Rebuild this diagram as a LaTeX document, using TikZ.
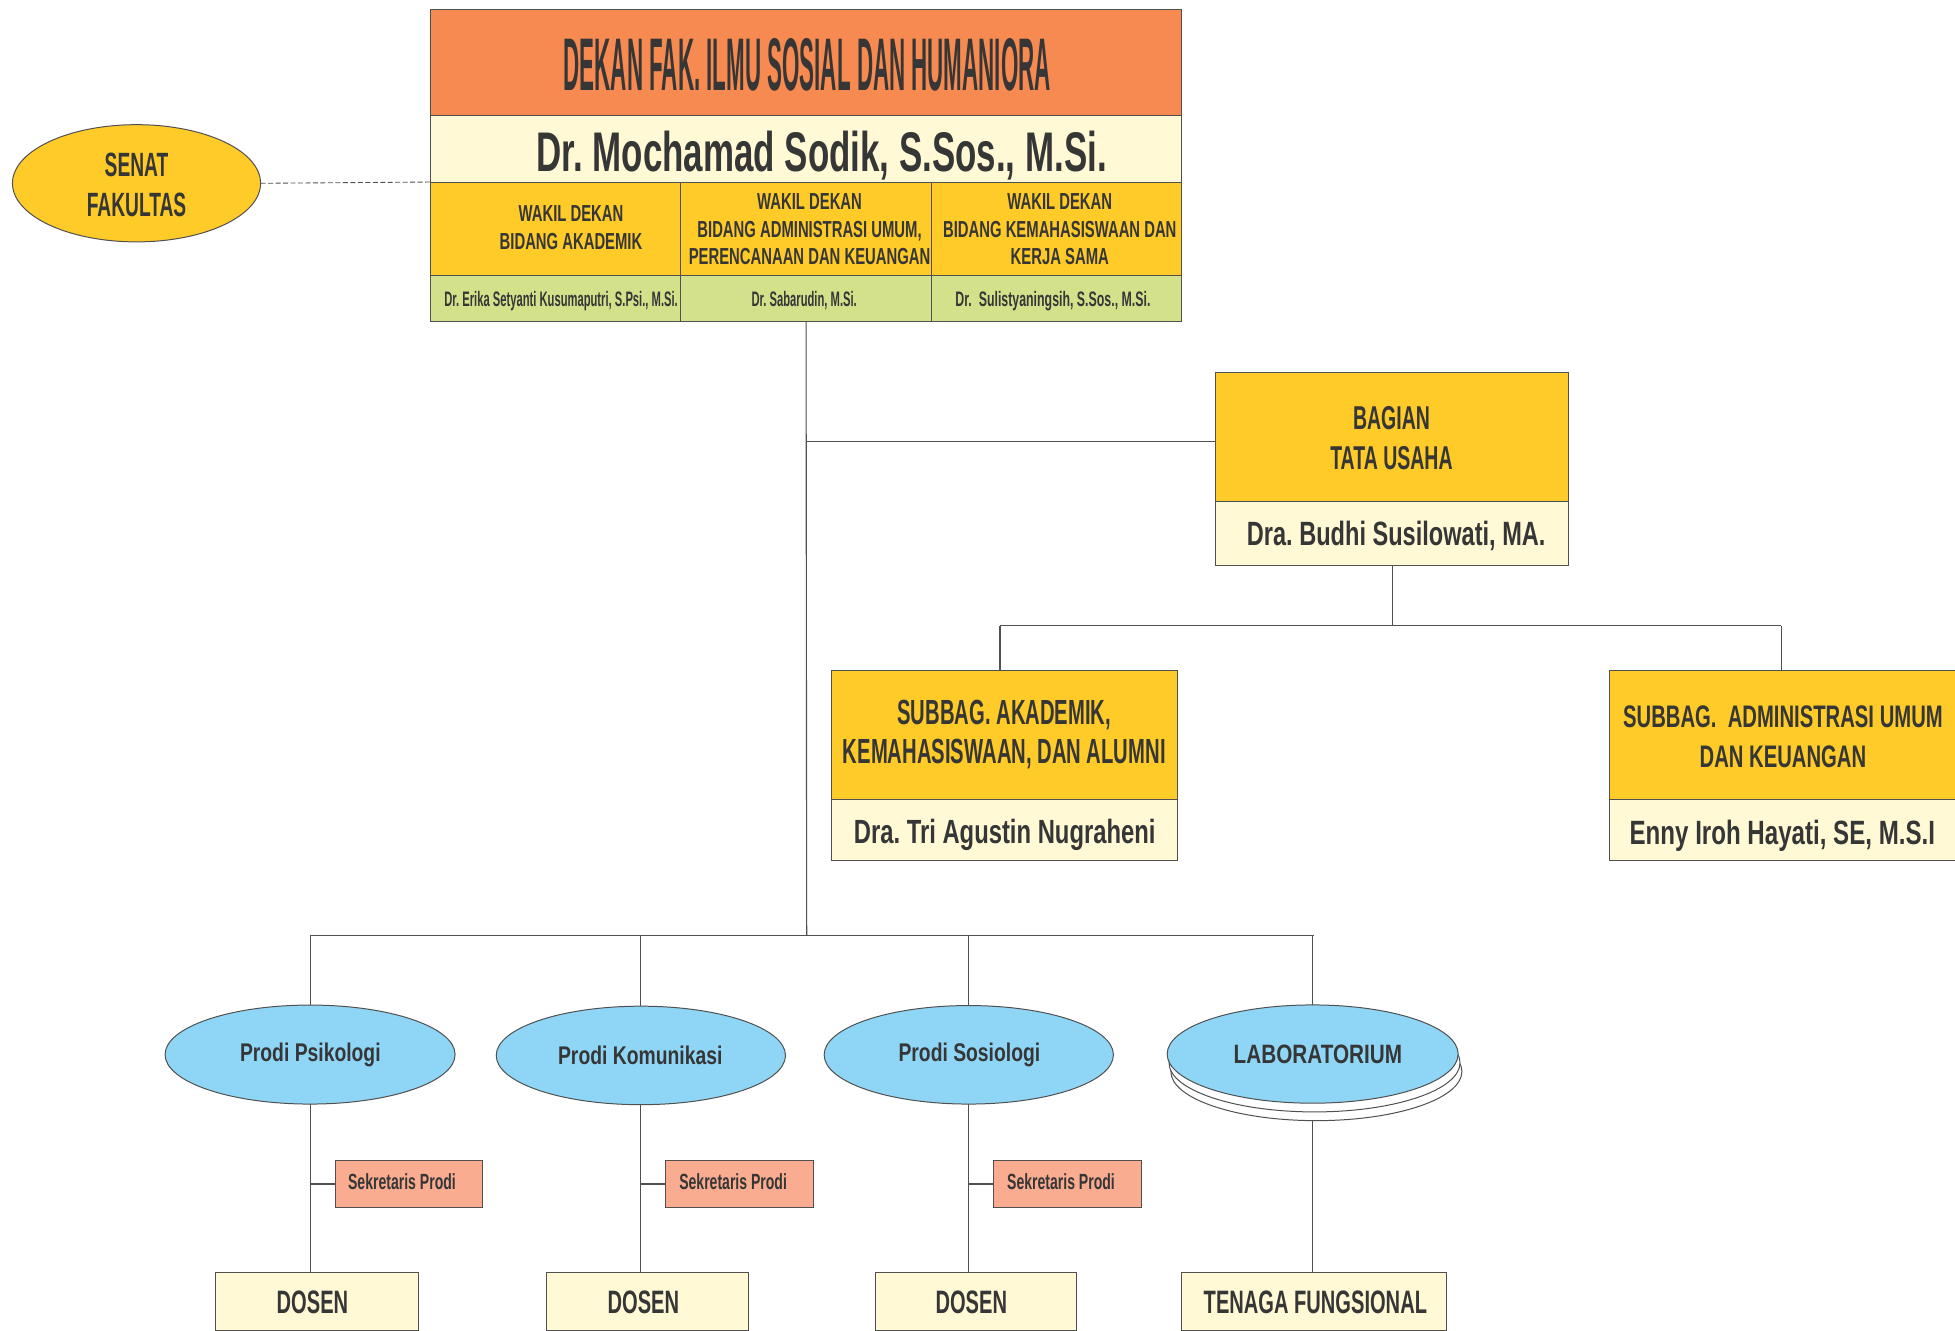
\documentclass[tikz,border=0pt]{standalone}
\usepackage{fontspec}
\setmainfont{Liberation Sans}
\usetikzlibrary{shapes.geometric}
\frenchspacing
\definecolor{cOr}{HTML}{F68A50}
\definecolor{cCr}{HTML}{FFFAD5}
\definecolor{cYe}{HTML}{FFCB29}
\definecolor{cGr}{HTML}{D4E18B}
\definecolor{cBl}{HTML}{8FD6F6}
\definecolor{cSa}{HTML}{F9AC8F}
\definecolor{cTx}{HTML}{363636}
\definecolor{cLn}{HTML}{505050}
\newcommand\Fnt[3]{\fontspec[FakeStretch=#1]{Liberation Sans Bold}\fontsize{#2}{#3}\selectfont}
\tikzset{
  bx/.style={draw=cLn, line width=0.8pt, inner sep=0pt, outer sep=0pt, anchor=north west, rectangle},
  el/.style={draw=cLn, line width=0.8pt, ellipse, inner sep=0pt, outer sep=0pt, fill=cBl},
  tx/.style={anchor=base, inner sep=0pt, outer sep=0pt, text=cTx},
  ln/.style={draw=cLn, line width=0.9pt},
  fW/.style={font=\Fnt{0.64}{18.6}{19}},
  fP/.style={font=\Fnt{0.756}{20.5}{21}},
  fS/.style={font=\Fnt{0.64}{17.6}{18}},
  fD/.style={font=\Fnt{0.62}{26}{26}},
}
\begin{document}
\begin{tikzpicture}[x=1pt,y=-1pt]
\useasboundingbox (0,0) rectangle (1568,1067.5);
% ---------- top block
\node[bx,fill=cOr,minimum width=603pt,minimum height=85pt] (dek) at (345,8) {};
\node[bx,fill=cCr,minimum width=603pt,minimum height=53pt] (dekN) at (345,93) {};
\node[bx,fill=cYe,minimum width=201pt,minimum height=75pt] (w1) at (345,146) {};
\node[bx,fill=cYe,minimum width=201pt,minimum height=75pt] (w2) at (546,146) {};
\node[bx,fill=cYe,minimum width=201pt,minimum height=75pt] (w3) at (747,146) {};
\node[bx,fill=cGr,minimum width=201pt,minimum height=37pt] (g1) at (345,221) {};
\node[bx,fill=cGr,minimum width=201pt,minimum height=37pt] (g2) at (546,221) {};
\node[bx,fill=cGr,minimum width=201pt,minimum height=37pt] (g3) at (747,221) {};
\node[tx,font=\Fnt{0.30}{59.8}{60}] (tT) at (647.5,72.2) {DEKAN FAK. ILMU SOSIAL DAN HUMANIORA};
\node[tx,font=\Fnt{0.625}{44.8}{45}] (tN) at (659,137.7) {Dr. Mochamad Sodik, S.Sos., M.Si.};
\node[tx,fW] (tw1a) at (458,177.5) {WAKIL DEKAN};
\node[tx,fW] (tw1b) at (458,200) {BIDANG AKADEMIK};
\node[tx,fW] (tw2a) at (649.3,168) {WAKIL DEKAN};
\node[tx,fW] (tw2b) at (649.3,190.3) {BIDANG ADMINISTRASI UMUM,};
\node[tx,fW] (tw2c) at (649.3,212.5) {PERENCANAAN DAN KEUANGAN};
\node[tx,fW] (tw3a) at (850,168) {WAKIL DEKAN};
\node[tx,fW] (tw3b) at (850,190.3) {BIDANG KEMAHASISWAAN DAN};
\node[tx,fW] (tw3c) at (850,212.5) {KERJA SAMA};
\node[tx,font=\Fnt{0.535}{16.8}{17}] (tg1) at (450,246) {Dr. Erika Setyanti Kusumaputri, S.Psi., M.Si.};
\node[tx,font=\Fnt{0.535}{16.8}{17}] (tg2) at (645,246) {Dr. Sabarudin, M.Si.};
\node[tx,font=\Fnt{0.59}{16.8}{17}] (tg3) at (844.5,246) {Dr.\ \ Sulistyaningsih, S.Sos., M.Si.};
% ---------- senat
\node[el,fill=cYe,minimum width=199pt,minimum height=94pt] (sen) at (109.5,147) {};
\node[tx,font=\Fnt{0.57}{27}{27}] (tsa) at (109.5,141.7) {SENAT};
\node[tx,font=\Fnt{0.57}{27}{27}] (tsb) at (109.5,173.3) {FAKULTAS};
\draw[ln,line width=0.7pt,dash pattern=on 4pt off 2pt] (sen.east) -- (dekN.south west);
% ---------- bagian tata usaha
\node[bx,fill=cYe,minimum width=283pt,minimum height=103.5pt] (bag) at (975,299) {};
\node[bx,fill=cCr,minimum width=283pt,minimum height=51pt] (bagN) at (975,402.5) {};
\node[tx,font=\Fnt{0.59}{26.5}{27}] (tba) at (1116,344.8) {BAGIAN};
\node[tx,font=\Fnt{0.59}{26.5}{27}] (tbb) at (1116,376.3) {TATA USAHA};
\node[tx,font=\Fnt{0.70}{27}{27}] (tbn) at (1119.8,437.6) {Dra. Budhi Susilowati, MA.};
% ---------- subbag
\node[bx,fill=cYe,minimum width=277pt,minimum height=103pt] (subA) at (667,538) {};
\node[bx,fill=cCr,minimum width=277pt,minimum height=49pt] (subAN) at (667,641) {};
\node[tx,font=\Fnt{0.58}{28}{28}] (tsA1) at (805.5,581.3) {SUBBAG. AKADEMIK,};
\node[tx,font=\Fnt{0.58}{28}{28}] (tsA2) at (805.5,612) {KEMAHASISWAAN, DAN ALUMNI};
\node[tx,font=\Fnt{0.71}{26.9}{27}] (tsAn) at (805.8,676.8) {Dra. Tri Agustin Nugraheni};
\node[bx,fill=cYe,minimum width=300pt,minimum height=103pt] (subB) at (1291,538) {};
\node[bx,fill=cCr,minimum width=300pt,minimum height=49pt] (subBN) at (1291,641) {};
\node[tx,font=\Fnt{0.65}{25}{25}] (tsB1) at (1430,583.2) {SUBBAG.\ \ ADMINISTRASI UMUM};
\node[tx,font=\Fnt{0.65}{25}{25}] (tsB2) at (1430,615.3) {DAN KEUANGAN};
\node[tx,font=\Fnt{0.716}{27}{27}] (tsBn) at (1429.5,677.6) {Enny Iroh Hayati, SE, M.S.I};
% ---------- prodi ellipses
\node[el,minimum width=232.6pt,minimum height=79.4pt] (e1) at (248.7,845.8) {};
\node[el,minimum width=232pt,minimum height=79pt] (e2) at (514,846.5) {};
\node[el,minimum width=232pt,minimum height=79pt] (e3) at (777,846) {};
\node[el,fill=white,minimum width=233.4pt,minimum height=78.8pt] (e4c) at (1055.8,859.4) {};
\node[el,fill=white,minimum width=233.4pt,minimum height=78.8pt] (e4b) at (1054.3,852.4) {};
\node[el,minimum width=233.4pt,minimum height=78.8pt] (e4) at (1052.8,845.4) {};
\node[tx,fP] (tp1) at (248.9,851.4) {Prodi Psikologi};
\node[tx,fP] (tp2) at (513.5,853.5) {Prodi Komunikasi};
\node[tx,fP] (tp3) at (777.5,851.4) {Prodi Sosiologi};
\node[tx,font=\Fnt{0.78}{21.3}{22}] (tlab) at (1057,853) {LABORATORIUM};
% ---------- sekretaris
\node[bx,fill=cSa,minimum width=118.4pt,minimum height=37.2pt] (s1) at (268.7,931) {};
\node[bx,fill=cSa,minimum width=118.4pt,minimum height=37.2pt] (s2) at (534,931) {};
\node[bx,fill=cSa,minimum width=118.4pt,minimum height=37.2pt] (s3) at (797,931) {};
\node[tx,fS] (ts1) at (322.4,954.4) {Sekretaris Prodi};
\node[tx,fS] (ts2) at (588,954.4) {Sekretaris Prodi};
\node[tx,fS] (ts3) at (851,954.4) {Sekretaris Prodi};
% ---------- dosen
\node[bx,fill=cCr,minimum width=162.5pt,minimum height=46.5pt] (d1) at (173,1020.6) {};
\node[bx,fill=cCr,minimum width=162.5pt,minimum height=46.5pt] (d2) at (438,1020.6) {};
\node[bx,fill=cCr,minimum width=161.5pt,minimum height=46.5pt] (d3) at (702,1020.6) {};
\node[bx,fill=cCr,minimum width=212.6pt,minimum height=46.5pt] (tf) at (947.6,1020.6) {};
\node[tx,fD] (td1) at (250.6,1053.2) {DOSEN};
\node[tx,fD] (td2) at (516,1053.2) {DOSEN};
\node[tx,fD] (td3) at (779,1053.2) {DOSEN};
\node[tx,fD] (ttf) at (1055,1053.2) {TENAGA FUNGSIONAL};
% ---------- connectors
\coordinate (j1) at (647,354);
\coordinate (j2) at (647,750);
\coordinate (j3) at (802,502);
\coordinate (j4) at (1428.6,502);
\coordinate (k1) at (249.4,750);
\coordinate (k4) at (1053.8,750);
\draw[ln] (g2.south) -- (j2);
\draw[ln] (j1) -- (j1 -| bag.west);
\draw[ln] (bagN.south) -- (bagN.south |- j3);
\draw[ln] (j3) -- (j4);
\draw[ln] (j3) -- (j3 |- subA.north);
\draw[ln] (j4) -- (j4 |- subB.north);
\draw[ln] (k1) -- (k4);
\draw[ln] (e1.north |- k1) -- (e1.north);
\draw[ln] (e2.north |- k1) -- (e2.north);
\draw[ln] (e3.north |- k1) -- (e3.north);
\draw[ln] (e4.north |- k1) -- (e4.north);
\draw[ln] (e1.south) -- (e1.south |- d1.north);
\draw[ln] (e2.south) -- (e2.south |- d2.north);
\draw[ln] (e3.south) -- (e3.south |- d3.north);
\draw[ln] (e4.south |- e4c.south) -- (e4.south |- tf.north);
\draw[ln] (s1.west -| e1.south) -- (s1.west);
\draw[ln] (s2.west -| e2.south) -- (s2.west);
\draw[ln] (s3.west -| e3.south) -- (s3.west);
\end{tikzpicture}
\end{document}
